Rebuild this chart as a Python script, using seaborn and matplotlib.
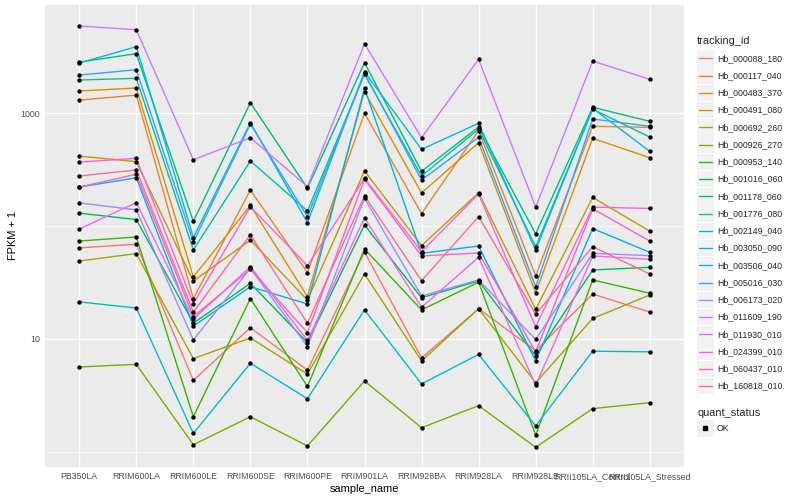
import numpy as np
import pandas as pd
import seaborn as sns
import matplotlib.pyplot as plt
from matplotlib.lines import Line2D
from matplotlib.patches import Rectangle
from matplotlib.ticker import FixedLocator, NullFormatter

# sample order on the x axis
samples = ["PB350LA", "RRIM600LA", "RRIM600LE", "RRIM600SE", "RRIM600PE", "RRIM901LA",
           "RRIM928BA", "RRIM928LA", "RRIM928LE", "RRII105LA_Control", "RRII105LA_Stressed"]

tracking_ids = ["Hb_000088_180", "Hb_000117_040", "Hb_000483_370", "Hb_000491_080",
                "Hb_000692_260", "Hb_000926_270", "Hb_000953_140", "Hb_001016_060",
                "Hb_001178_060", "Hb_001776_080", "Hb_002149_040", "Hb_003050_090",
                "Hb_003506_040", "Hb_005016_030", "Hb_006173_020", "Hb_011609_190",
                "Hb_011930_010", "Hb_024399_010", "Hb_060437_010", "Hb_160818_010"]

# FPKM + 1 per gene, one value per sample
hb_000088_180 = [64, 69, 4.3, 12.6, 5.3, 59, 6.8, 18.5, 7.9, 25, 17.3]
hb_000117_040 = [1300, 1440, 22.7, 208, 38.6, 994, 129, 697, 36.3, 763, 747]
hb_000483_370 = [1566, 1664, 35.4, 152, 23.7, 1543, 196, 546, 25.7, 597, 402]
hb_000491_080 = [416, 371, 32.6, 75, 22.1, 307, 67, 197, 18.3, 179, 90]
hb_000692_260 = [49, 57, 6.7, 10.2, 4.9, 37.6, 6.4, 18.5, 4.1, 15.2, 24.5]
hb_000926_270 = [5.65, 5.97, 1.16, 2.05, 1.13, 4.25, 1.64, 2.57, 1.10, 2.42, 2.73]
hb_000953_140 = [73.6, 80, 2.05, 22.8, 3.8, 62.6, 18.1, 31.8, 1.41, 33.3, 25.4]
hb_001016_060 = [130, 114, 13.8, 31.1, 9.3, 102, 23.2, 32.6, 7.1, 40.8, 43.1]
hb_001178_060 = [2826, 3350, 110, 1233, 216, 2787, 305, 752, 85, 1123, 845]
hb_001776_080 = [1959, 2028, 61.4, 376, 136, 2199, 277, 722, 65.6, 1079, 613]
hb_002149_040 = [21.3, 18.8, 1.46, 6.1, 2.96, 18.1, 4.0, 7.3, 1.70, 7.8, 7.7]
hb_003050_090 = [2768, 3863, 79, 820, 107, 2318, 477, 811, 61.4, 1101, 458]
hb_003506_040 = [221, 267, 13.0, 29.0, 20.4, 1655, 57.3, 66.5, 6.4, 95, 58.5]
hb_005016_030 = [2168, 2416, 72, 800, 121, 2259, 255, 609, 29.0, 885, 763]
hb_006173_020 = [160, 139, 9.8, 42.3, 8.55, 176, 24.0, 33.3, 9.9, 57.3, 54.6]
hb_011609_190 = [5888, 5463, 386, 604, 223, 4105, 604, 2986, 147, 2884, 1987]
hb_011930_010 = [94, 161, 15.0, 43.6, 9.7, 118, 19.1, 52.8, 3.9, 54.3, 50.7]
hb_024399_010 = [368, 397, 20.5, 148, 44.6, 264, 59.3, 192, 12.8, 147, 143]
hb_060437_010 = [221, 287, 15.8, 41.4, 11.4, 259, 54.3, 57.7, 7.7, 142, 73.6]
hb_160818_010 = [277, 313, 17.3, 83.7, 13.8, 185, 32.8, 121, 16.6, 65.6, 37.6]

series = [hb_000088_180, hb_000117_040, hb_000483_370, hb_000491_080, hb_000692_260,
          hb_000926_270, hb_000953_140, hb_001016_060, hb_001178_060, hb_001776_080,
          hb_002149_040, hb_003050_090, hb_003506_040, hb_005016_030, hb_006173_020,
          hb_011609_190, hb_011930_010, hb_024399_010, hb_060437_010, hb_160818_010]

# ggplot2 default hue palette for 20 levels
hue_colors = ["#F8766D", "#EA8331", "#D89000", "#C09B00", "#A3A500", "#7CAE00", "#39B600",
              "#00BB4E", "#00BF7D", "#00C1A3", "#00BFC4", "#00BAE0", "#00B0F6", "#35A2FF",
              "#9590FF", "#C77CFF", "#E76BF3", "#FA62DB", "#FF62BC", "#FF6C91"]

rows = []
for tid, vals in zip(tracking_ids, series):
    for i, v in enumerate(vals):
        rows.append({"tracking_id": tid, "sample_name": samples[i], "pos": i, "fpkm": v})
df = pd.DataFrame(rows)

sns.set_theme(style="darkgrid")
plt.rcParams['font.family'] = ['Liberation Sans', 'DejaVu Sans']

W, H = 800, 500
fig = plt.figure(figsize=(8, 5), dpi=100)
fig.patch.set_facecolor("white")
ax = fig.add_axes([45 / W, 1 - 467 / H, (684 - 45) / W, (467 - 5) / H])
ax.set_facecolor("#EBEBEB")

sns.lineplot(data=df, x="pos", y="fpkm", hue="tracking_id", hue_order=tracking_ids,
             palette=hue_colors, linewidth=1.0, sort=False, legend=False, ax=ax,
             estimator=None, zorder=2)
sns.scatterplot(data=df, x="pos", y="fpkm", color="black", s=10, linewidth=0,
                legend=False, ax=ax, zorder=3)

ax.set_yscale("log")
ax.set_ylim(10 ** -0.133, 10 ** 3.956)
ax.set_xlim(-0.6, 10.6)
ax.yaxis.set_major_locator(FixedLocator([10, 1000]))
ax.set_yticklabels(["10", "1000"])
ax.yaxis.set_minor_locator(FixedLocator([1, 100]))
ax.yaxis.set_minor_formatter(NullFormatter())
ax.set_xticks(range(len(samples)))
ax.set_xticklabels(samples)

ax.grid(which="major", color="white", linewidth=1.0)
ax.grid(which="minor", axis="y", color="white", linewidth=0.5)
ax.grid(which="minor", axis="x", visible=False)
for s in ax.spines.values():
    s.set_visible(False)
ax.tick_params(which="major", length=2.0, width=0.7, color="#333333",
               labelsize=6.3, labelcolor="#4D4D4D", pad=1.5)
ax.tick_params(which="minor", length=0)

ax.set_xlabel("sample_name", fontsize=7.9, color="black", labelpad=2)
ax.set_ylabel("FPKM + 1", fontsize=7.9, color="black", labelpad=2)

# legend drawn ggplot-style on the right
def fx(x):
    return x / W


def fy(y):
    return 1 - y / H


fig.text(fx(697), fy(40.5), "tracking_id", fontsize=7.9, va="center", ha="left")
step = 17.25
for i, (tid, col) in enumerate(zip(tracking_ids, hue_colors)):
    yc = 58.3 + i * step
    fig.add_artist(Rectangle((fx(697), fy(yc + 8.2)), 16.5 / W, 16.4 / H,
                             transform=fig.transFigure, facecolor="#F2F2F2",
                             edgecolor="none"))
    fig.add_artist(Line2D([fx(698.5), fx(712)], [fy(yc), fy(yc)],
                          transform=fig.transFigure, color=col, linewidth=1.0))
    fig.text(fx(717), fy(yc), tid, fontsize=6.3, va="center", ha="left")

fig.text(fx(697), fy(412.7), "quant_status", fontsize=7.9, va="center", ha="left")
fig.add_artist(Rectangle((fx(697), fy(428.3 + 8.2)), 16.5 / W, 16.4 / H,
                         transform=fig.transFigure, facecolor="#F2F2F2", edgecolor="none"))
fig.add_artist(Line2D([fx(705.2)], [fy(428.3)], transform=fig.transFigure,
                      marker="s", markersize=2.4, color="black", linestyle="none"))
fig.text(fx(717), fy(428.3), "OK", fontsize=6.3, va="center", ha="left")

fig.savefig("out.png", dpi=100)
